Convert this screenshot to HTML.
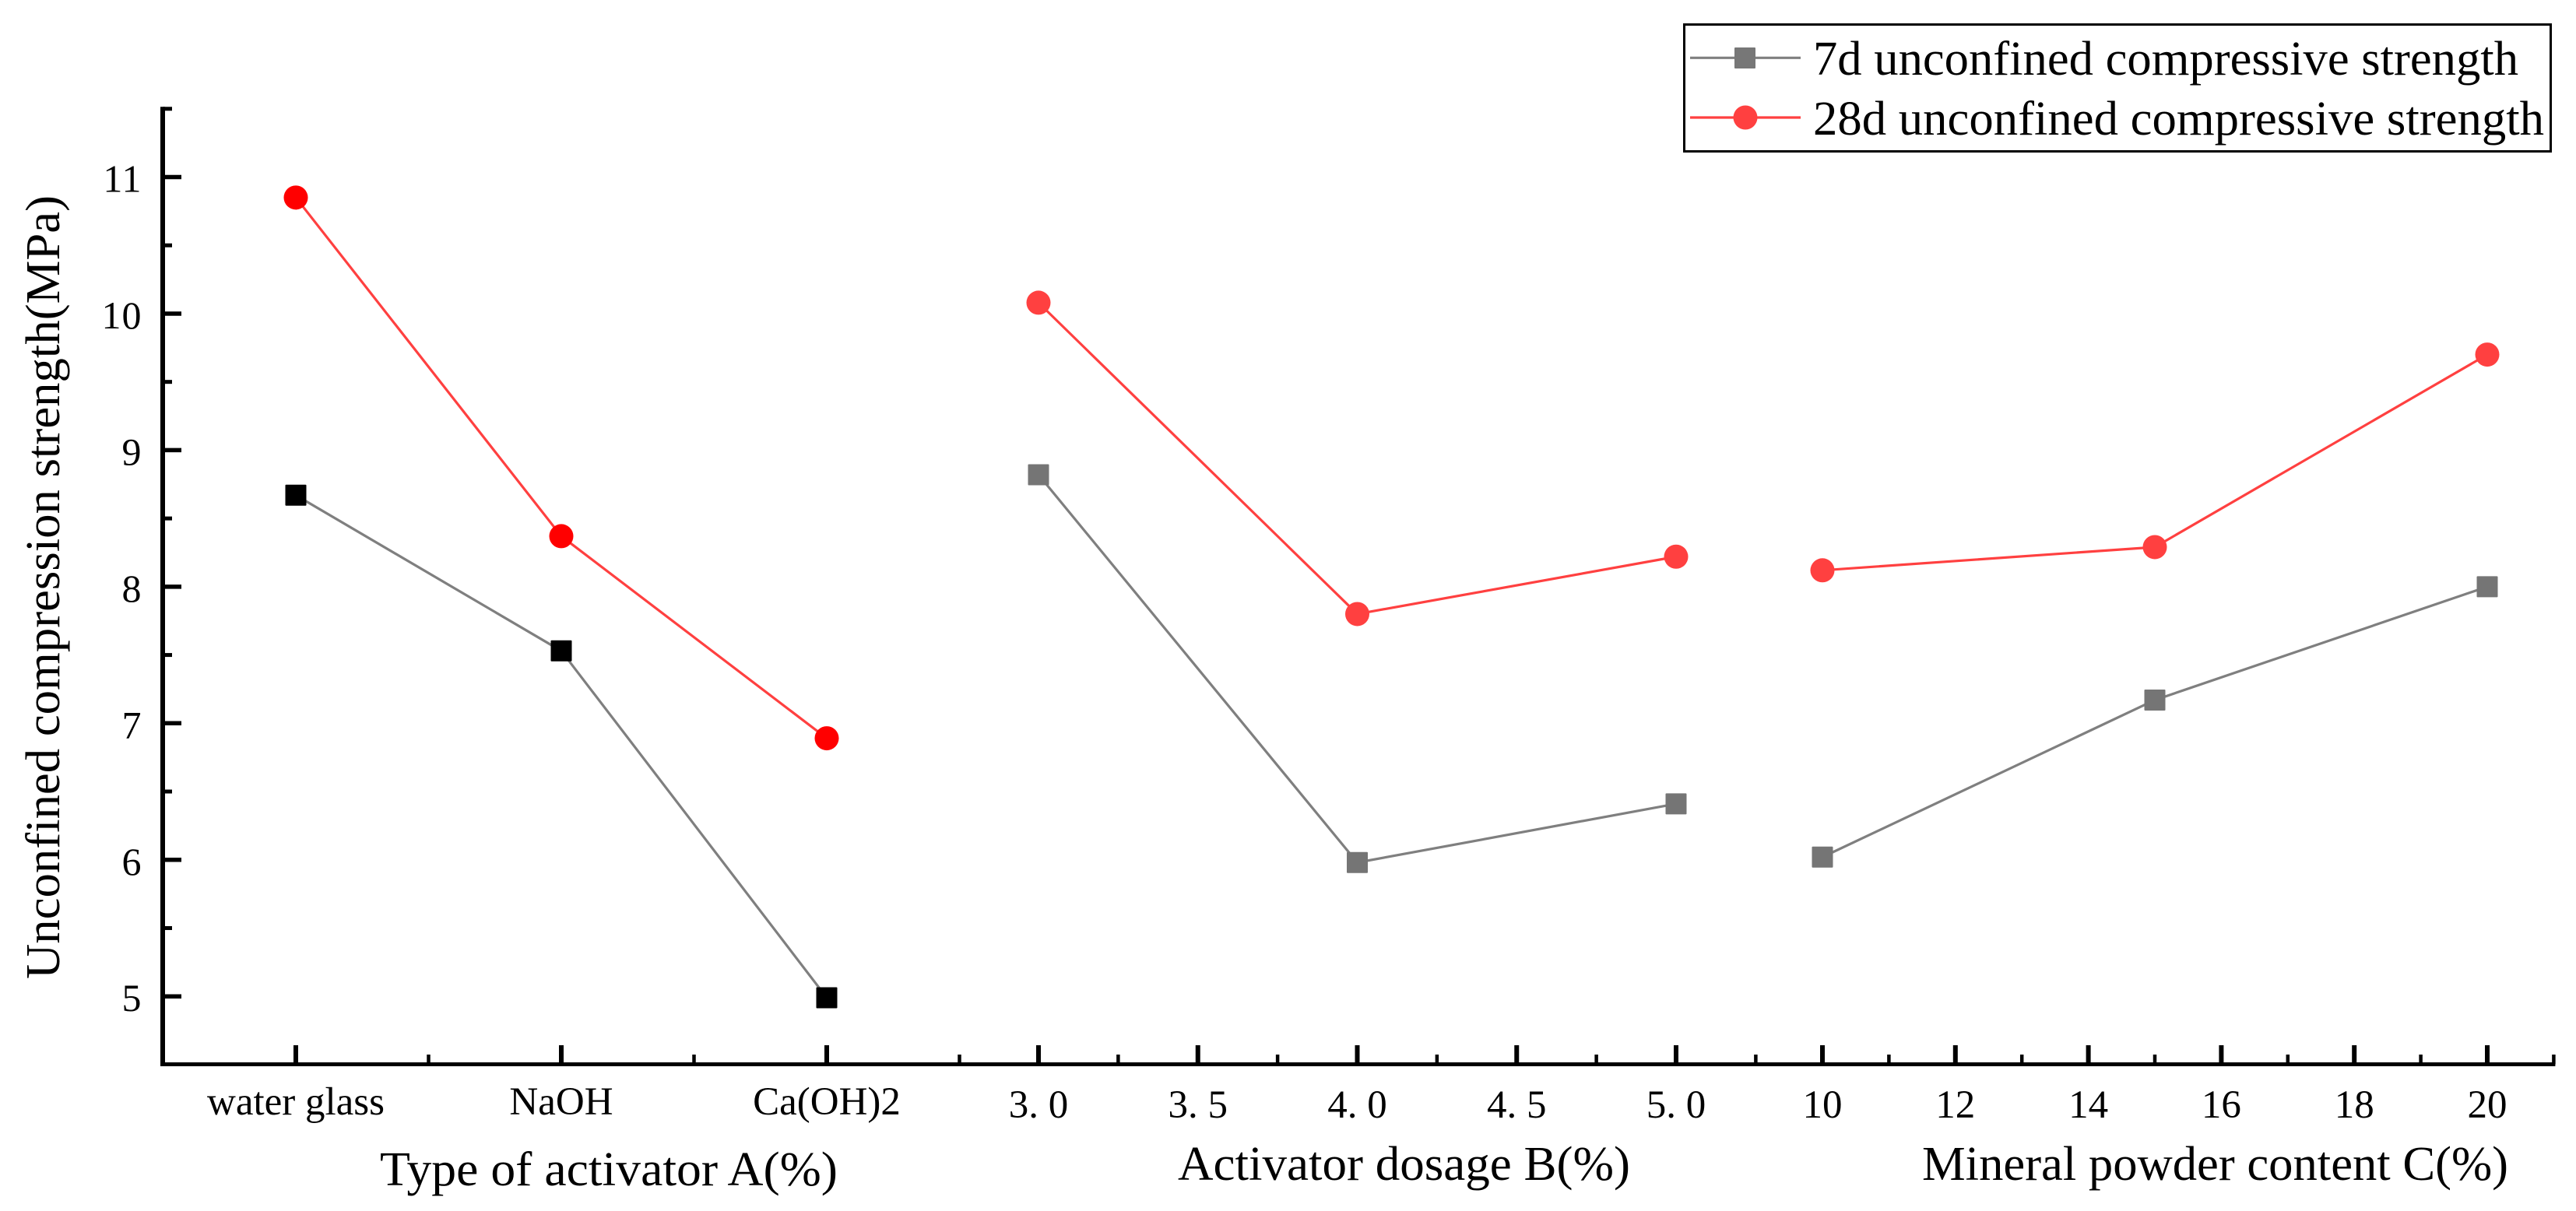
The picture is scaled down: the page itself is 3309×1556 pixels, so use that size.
<!DOCTYPE html>
<html lang="en">
<head>
<meta charset="utf-8">
<title>Unconfined compression strength chart</title>
<style>
  html, body { margin: 0; padding: 0; background: #fff; }
  body { width: 3309px; height: 1556px; overflow: hidden; }
  svg { display: block; font-family: "Liberation Serif", "Times New Roman", serif; fill: #000; }
</style>
</head>
<body>
<svg id="chart" xmlns="http://www.w3.org/2000/svg" width="3309" height="1556" viewBox="0 0 3309 1556">
  <rect x="0" y="0" width="3309" height="1556" fill="#ffffff"/>
  <g id="marks"></g>
  <g id="axes"></g>
  <text transform="translate(76 1258) rotate(-90)" font-size="62" textLength="1007" lengthAdjust="spacingAndGlyphs">Unconfined compression strength(MPa)</text>
  <text x="488" y="1523" font-size="62" textLength="588" lengthAdjust="spacingAndGlyphs">Type of activator A(%)</text>
  <text x="1513" y="1516" font-size="62" textLength="581" lengthAdjust="spacingAndGlyphs">Activator dosage B(%)</text>
  <text x="2469" y="1516" font-size="62" textLength="753" lengthAdjust="spacingAndGlyphs">Mineral powder content C(%)</text>
  <g>
    <rect x="2163.5" y="31.5" width="1113" height="163" fill="#ffffff" stroke="#000000" stroke-width="3"/>
    <line x1="2171" y1="74.3" x2="2313" y2="74.3" stroke="#7f7f7f" stroke-width="3.2"/>
    <rect x="2228" y="61" width="27" height="27" rx="1" fill="#777777"/>
    <text x="2329" y="96" font-size="62" textLength="906" lengthAdjust="spacingAndGlyphs">7d unconfined compressive strength</text>
    <line x1="2171" y1="151" x2="2313" y2="151" stroke="#ff4040" stroke-width="3.2"/>
    <circle cx="2242" cy="151" r="15.5" fill="#ff4040"/>
    <text x="2329" y="173" font-size="62" textLength="939" lengthAdjust="spacingAndGlyphs">28d unconfined compressive strength</text>
  </g>
</svg>
<script>
// ---- chart data ----
const categoriesA = ['water glass', 'NaOH', 'Ca(OH)2'];
const dosageB = [3, 4, 5];
const contentC = [10, 15, 20];

const strength7dA = [8.67, 7.53, 4.99];
const strength7dB = [8.82, 5.98, 6.41];
const strength7dC = [6.02, 7.17, 8.0];

const strength28dA = [10.85, 8.37, 6.89];
const strength28dB = [10.08, 7.80, 8.22];
const strength28dC = [8.12, 8.29, 9.70];

const yTicks = [5, 6, 7, 8, 9, 10, 11];
const yMinorTicks = [5.5, 6.5, 7.5, 8.5, 9.5, 10.5, 11.5];
const tickValuesB = [3, 3.5, 4, 4.5, 5];
const tickLabelsB = ['3. 0', '3. 5', '4. 0', '4. 5', '5. 0'];
const minorTicksA = [0.5, 1.5, 2.5];
const minorTicksB = [3.25, 3.75, 4.25, 4.75, 5.25];
const tickValuesC = [10, 12, 14, 16, 18, 20];
const tickLabelsC = ['10', '12', '14', '16', '18', '20'];
const minorTicksC = [11, 13, 15, 17, 19, 21];

// ---- axis functions ----
const xA = i => 380 + 341 * i;
const xB = v => 1334 + 409.5 * (v - 3);
const xC = v => 2341 + 85.4 * (v - 10);
const yScale = v => 227.5 + (11 - v) * 175.45;

const AXIS_X = 209;
const AXIS_Y = 1367.5;
const NS = 'http://www.w3.org/2000/svg';
const marksLayer = document.getElementById('marks');
const axesLayer = document.getElementById('axes');

function make(parent, tag, attrs, text) {
  const node = document.createElementNS(NS, tag);
  for (const key in attrs) node.setAttribute(key, attrs[key]);
  if (text !== undefined) node.textContent = text;
  parent.appendChild(node);
  return node;
}

// ---- axes ----
const yAxisLine = make(axesLayer, 'line', { x1: AXIS_X, y1: yScale(11.5) - 2.5, x2: AXIS_X, y2: AXIS_Y + 2.5, stroke: '#000', 'stroke-width': 6 });



const xAxisLine = make(axesLayer, 'line', { x1: AXIS_X - 3, y1: AXIS_Y, x2: xC(21) + 2, y2: AXIS_Y, stroke: '#000', 'stroke-width': 5 });



yTicks.forEach(v => {
  const tick = make(axesLayer, 'line', { x1: AXIS_X, y1: yScale(v), x2: AXIS_X + 24, y2: yScale(v), stroke: '#000', 'stroke-width': 5.5 });
  
  
  const label = make(axesLayer, 'text', { x: 182.5, y: yScale(v) + 19, 'font-size': 50, 'letter-spacing': 1, 'text-anchor': 'end' }, String(v));
  
  
});

yMinorTicks.forEach(v => {
  const tick = make(axesLayer, 'line', { x1: AXIS_X, y1: yScale(v), x2: AXIS_X + 12, y2: yScale(v), stroke: '#000', 'stroke-width': 5 });
  
  
});

function xMajor(x, text, baseline) {
  const tick = make(axesLayer, 'line', { x1: x, y1: AXIS_Y, x2: x, y2: 1343, stroke: '#000', 'stroke-width': 6 });
  
  
  const label = make(axesLayer, 'text', { x: x, y: baseline, 'font-size': 51, 'text-anchor': 'middle' }, text);
  
  
}

function xMinor(x) {
  const tick = make(axesLayer, 'line', { x1: x, y1: AXIS_Y, x2: x, y2: 1355, stroke: '#000', 'stroke-width': 4.5 });
  
  
}

categoriesA.forEach((c, i) => xMajor(xA(i), c, 1432));
minorTicksA.forEach(i => xMinor(xA(i)));
tickValuesB.forEach((v, i) => xMajor(xB(v), tickLabelsB[i], 1436));
minorTicksB.forEach(v => xMinor(xB(v)));
tickValuesC.forEach((v, i) => xMajor(xC(v), tickLabelsC[i], 1436));
minorTicksC.forEach(v => xMinor(xC(v)));

// ---- series ----
function drawLine(xs, values, color, name) {
  const pts = values.map((v, i) => xs[i] + ',' + yScale(v)).join(' ');
  const line = make(marksLayer, 'polyline', { points: pts, fill: 'none', stroke: color, 'stroke-width': 3.2, 'stroke-linejoin': 'round' });
  
  
}

function drawSquares(xs, values, color, name) {
  values.forEach((v, i) => {
    const sq = make(marksLayer, 'rect', { x: xs[i] - 13.5, y: yScale(v) - 13.5, width: 27, height: 27, rx: 1, fill: color });
    
    
  });
}

function drawCircles(xs, values, color, name) {
  values.forEach((v, i) => {
    const dot = make(marksLayer, 'circle', { cx: xs[i], cy: yScale(v), r: 15.5, fill: color });
    
    
  });
}

const xsA = categoriesA.map((c, i) => xA(i));
const xsB = dosageB.map(xB);
const xsC = contentC.map(xC);

drawLine(xsA, strength7dA, '#7f7f7f', 'line-7d-activator-type');
drawLine(xsB, strength7dB, '#7f7f7f', 'line-7d-activator-dosage');
drawLine(xsC, strength7dC, '#7f7f7f', 'line-7d-mineral-powder');
drawLine(xsA, strength28dA, '#ff4040', 'line-28d-activator-type');
drawLine(xsB, strength28dB, '#ff4040', 'line-28d-activator-dosage');
drawLine(xsC, strength28dC, '#ff4040', 'line-28d-mineral-powder');

drawSquares(xsA, strength7dA, '#000000', 'point-7d-activator-type');
drawSquares(xsB, strength7dB, '#757575', 'point-7d-activator-dosage');
drawSquares(xsC, strength7dC, '#757575', 'point-7d-mineral-powder');
drawCircles(xsA, strength28dA, '#ff0000', 'point-28d-activator-type');
drawCircles(xsB, strength28dB, '#ff4040', 'point-28d-activator-dosage');
drawCircles(xsC, strength28dC, '#ff4040', 'point-28d-mineral-powder');
</script>
</body>
</html>
